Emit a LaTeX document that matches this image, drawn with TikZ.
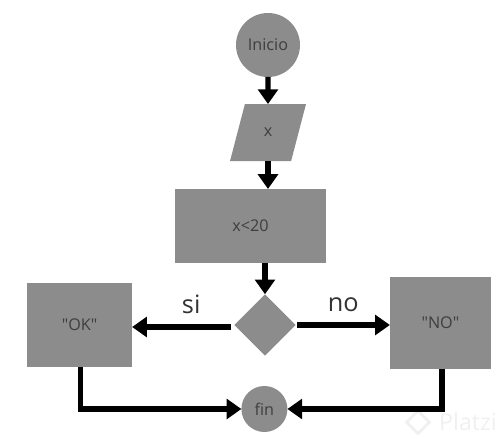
\documentclass[tikz,border=0pt]{standalone}
\usepackage{fontspec}
\setmainfont[Ligatures=TeXOff]{Open Sans}
\usepackage{xcolor}
\usetikzlibrary{arrows.meta,shapes.geometric}
\definecolor{blockgray}{RGB}{140,140,140}
\definecolor{textgray}{RGB}{62,62,62}
\definecolor{labelgray}{RGB}{50,50,50}
\definecolor{markgray}{RGB}{240,241,238}
\tikzset{
  block/.style={fill=blockgray, text=textgray, font=\fontsize{11.5}{13}\selectfont, inner sep=0pt, outer sep=0pt},
  flow/.style={line width=3.6pt, -{Triangle[length=10.5pt,width=14pt]}, black},
  branch/.style={font=\fontsize{18}{21}\selectfont, text=labelgray}
}
\begin{document}
\begin{tikzpicture}[font=\rmfamily]
\useasboundingbox (0,0) rectangle (12.55,10.975);

% 1. Watermark
\node[font=\fontsize{16.5}{19}\selectfont, text=markgray, inner sep=0pt] (marca) at (11.70,0.44) {Platzi};
\node[diamond, aspect=1, draw=markgray, line width=2pt, minimum size=0.6cm, inner sep=0pt] (marcaicono) at (10.45,0.42) {};

% 2. Blocks
\node[block, circle, minimum size=1.6cm] (inicio) at (6.70,9.85) {Inicio};
\node[block, trapezium, trapezium stretches=true, trapezium left angle=72.5, trapezium right angle=107.5,
      minimum width=1.9cm, minimum height=1.425cm] (entrada) at (6.70,7.66) {x};
\node[block, minimum width=3.775cm, minimum height=1.85cm] (proceso) at (6.26,5.325) {x<20};
\node[block, diamond, aspect=1, minimum width=1.535cm, minimum height=1.535cm] (decision) at (6.625,2.85) {};
\node[block, minimum width=2.625cm, minimum height=2.1cm] (ok) at (1.99,2.85) {"OK"};
\node[block, minimum width=2.525cm, minimum height=2.3cm] (no) at (11.01,2.90) {"NO"};
\node[block, circle, minimum size=1.15cm] (fin) at (6.61,0.75) {fin};

% 3. Connectors
\draw[flow] (inicio) -- (entrada);
\draw[flow] (entrada.south) -- (entrada.south |- proceso.north);
\draw[flow] (decision.north |- proceso.south) -- (decision.north);
\draw[flow, shorten <=2pt] ([yshift=-0.05cm]decision.west) -- ([yshift=-0.05cm]ok.east);
\draw[flow, shorten <=1pt] (decision.east) -- (no.west |- decision.east);
\draw[flow] ([xshift=0.02cm]ok.south) |- (fin.west);
\draw[flow] ([xshift=0.04cm]no.south) |- (fin.east);

% 4. Branch labels
\node[branch] (si) at (4.78,3.36) {si};
\node[branch] (nolabel) at (8.58,3.36) {no};

\end{tikzpicture}
\end{document}
